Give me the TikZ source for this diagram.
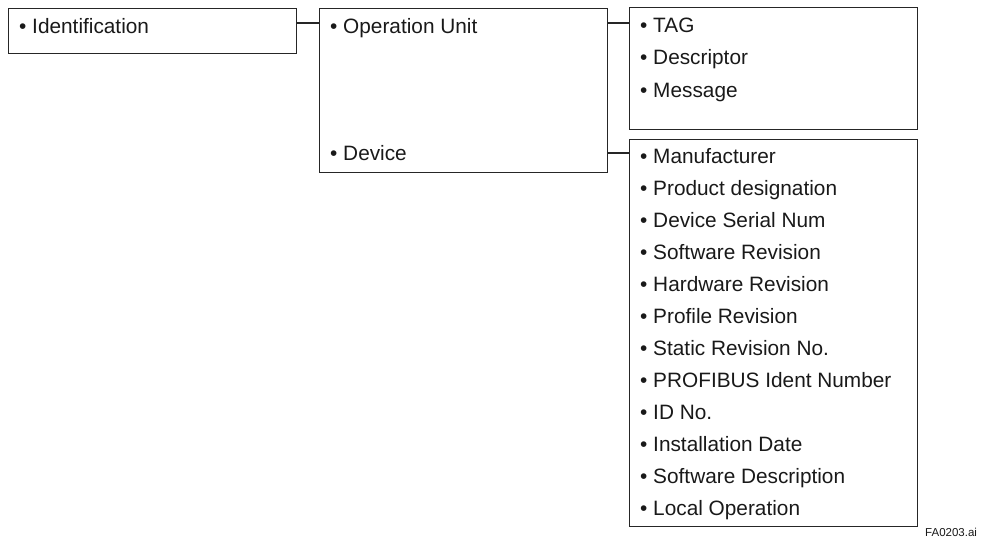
\documentclass[tikz,border=0pt]{standalone}
\usepackage{fontspec}
\setmainfont{Liberation Sans}
\begin{document}
\begin{tikzpicture}[x=1pt,y=-1pt,
  box/.style={draw=black!85,line width=1.1pt,rectangle,inner sep=0pt,anchor=north west},
  item/.style={anchor=base west,inner sep=0pt,font=\fontsize{20.8}{24}\selectfont,text=black!90},
  link/.style={draw=black!85,line width=1.1pt}]
\useasboundingbox (0,0) rectangle (986,541);
% boxes
\node[box,minimum width=288pt,minimum height=45pt] (bid) at (8,8) {};
\node[box,minimum width=288pt,minimum height=164pt] (bdev) at (319,8) {};
\node[box,minimum width=288pt,minimum height=122pt] (btag) at (629,7) {};
\node[box,minimum width=288pt,minimum height=387pt] (blist) at (629,139) {};
% texts
\node[item] (tid) at (19,33) {• Identification};
\node[item] (tou) at (330,33) {• Operation Unit};
\node[item] (tdv) at (330,160) {• Device};
\node[item] (t1) at (640,32) {• TAG};
\node[item] (t2) at (640,64.5) {• Descriptor};
\node[item] (t3) at (640,97) {• Message};
\foreach \n/\t [count=\i from 0] in {l1/Manufacturer,l2/Product designation,l3/Device Serial Num,l4/Software Revision,l5/Hardware Revision,l6/Profile Revision,l7/Static Revision No.,l8/PROFIBUS Ident Number,l9/ID No.,l10/Installation Date,l11/Software Description,l12/Local Operation}
  \node[item] (\n) at (640,163+32*\i) {• \t};
\node[anchor=base west,inner sep=0pt,font=\fontsize{11.5}{13}\selectfont,text=black!90] (fig) at (925,536) {FA0203.ai};
% connector levels
\coordinate (c1) at (0,23);
\coordinate (c2) at (0,153);
\draw[link] (bid.east |- c1) -- (bdev.west |- c1);
\draw[link] (bdev.east |- c1) -- (btag.west |- c1);
\draw[link] (bdev.east |- c2) -- (blist.west |- c2);
\end{tikzpicture}
\end{document}
